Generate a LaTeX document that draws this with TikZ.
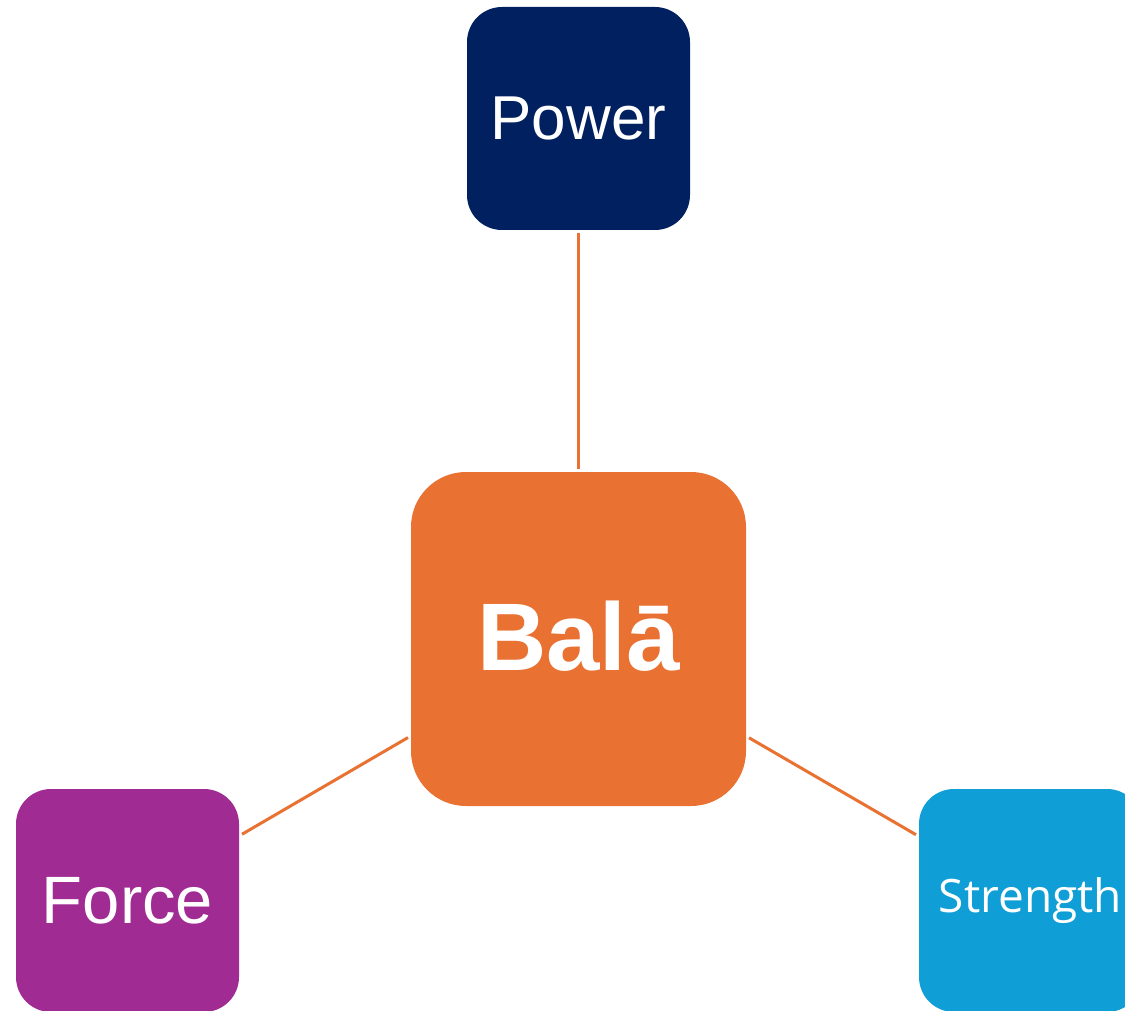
\documentclass[tikz,border=0pt]{standalone}
\usepackage{fontspec}
\setmainfont{Liberation Sans}
\newfontfamily\strfont{Open Sans}
\definecolor{navy}{HTML}{002060}
\definecolor{orng}{HTML}{E97132}
\definecolor{purp}{HTML}{A02B93}
\definecolor{skyb}{HTML}{0F9ED5}
\tikzset{
  sbox/.style={rectangle, rounded corners=35pt, inner sep=0pt, outer sep=3pt,
    minimum width=223pt, minimum height=223pt, text=white},
  link/.style={draw=orng, line width=3pt}
}
\begin{document}
\begin{tikzpicture}[x=1pt,y=-1pt]
\useasboundingbox (0,0) rectangle (1125,1011);
\clip (0,0) rectangle (1125,1011);
\node[sbox, fill=navy, font=\fontsize{62}{64}\selectfont] (power) at (578.5,118.5) {Power};
\node[sbox, fill=orng, rounded corners=55pt, minimum width=335pt, minimum height=334pt,
  font=\fontsize{96}{100}\selectfont\bfseries] (bala) at (578.5,639) {\raisebox{7pt}{Balā}};
\node[sbox, fill=purp, font=\fontsize{67}{70}\selectfont] (force) at (127.5,900.5) {Force};
\node[sbox, fill=skyb, font=\strfont\fontsize{46}{50}\selectfont] (strength) at (1030.5,900.5) {Strength};
\draw[link] (power) -- (bala);
\draw[link] (bala) -- (force);
\draw[link] (bala) -- (strength);
\end{tikzpicture}
\end{document}
